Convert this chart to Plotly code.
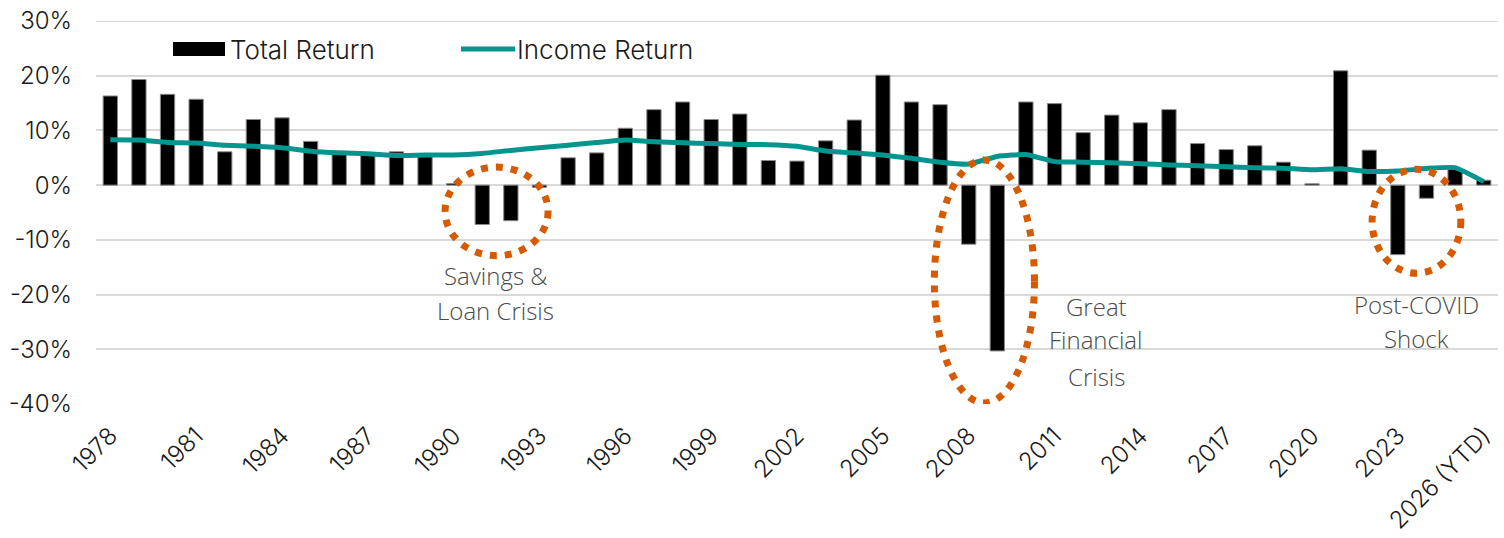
import plotly.graph_objects as go

years = [str(y) for y in range(1978, 2026)] + ["2026 (YTD)"]

total_return = [
    16.3, 19.3, 16.6, 15.7, 6.1, 12.0, 12.3, 8.0, 5.8, 5.5,
    6.1, 5.6, 0.3, -7.2, -6.5, -0.4, 5.0, 5.9, 10.4, 13.8,
    15.2, 12.0, 13.0, 4.5, 4.4, 8.1, 11.9, 20.1, 15.2, 14.7,
    -10.8, -30.3, 15.2, 14.9, 9.6, 12.8, 11.4, 13.8, 7.6, 6.5,
    7.2, 4.2, 0.25, 20.9, 6.4, -12.7, -2.4, 2.9, 0.9,
]

income_return = [
    8.3, 8.25, 7.8, 7.7, 7.3, 7.1, 6.85, 6.2, 5.9, 5.75,
    5.4, 5.5, 5.5, 5.8, 6.35, 6.85, 7.3, 7.8, 8.25, 7.95,
    7.75, 7.6, 7.45, 7.4, 7.1, 6.25, 5.9, 5.5, 4.9, 4.2,
    3.85, 5.25, 5.6, 4.3, 4.2, 4.1, 3.9, 3.7, 3.55, 3.35,
    3.2, 3.1, 2.8, 3.0, 2.5, 2.6, 3.05, 3.2, 0.65,
]

y_ticks = [30, 20, 10, 0, -10, -20, -30, -40]
y_tick_text = ["30%", "20%", "10%", "0%", "-10%", "-20%", "-30%", "-40%"]

FONT = "Inter"
TEAL = "#05958F"
ORANGE = "#D65A00"
GRID = "#d9d9d9"
W, H = 1504, 538
ML, MR, MT, MB = 96, 6, 21, 134

fig = go.Figure()
fig.add_trace(go.Bar(
    x=years, y=total_return, name="Total Return",
    marker=dict(color="#000000", line=dict(color="#8a8a8a", width=1)),
    width=0.5, showlegend=False,
))
fig.add_trace(go.Scatter(
    x=years, y=income_return, name="Income Return", mode="lines",
    line=dict(color=TEAL, width=5, shape="spline", smoothing=0.4),
    showlegend=False,
))

# top gridline (plotly drops the gridline lying on the plot edge)
fig.add_shape(type="line", xref="paper", yref="y", x0=0, x1=1, y0=y_ticks[0], y1=y_ticks[0],
              line=dict(color=GRID, width=2), layer="below")

# crisis ellipses (category index, percent)
ellipses = [
    (11.7, 15.3, 3.3, -12.9),
    (28.8, 32.3, 4.6, -39.8),
    (44.1, 47.2, 2.9, -16.1),
]
for x0, x1, y0, y1 in ellipses:
    fig.add_shape(type="circle", xref="x", yref="y", x0=x0, x1=x1, y0=y1, y1=y0,
                  line=dict(color=ORANGE, width=7, dash="7px,8px"), layer="above")

labels = [
    (13.47, -16.6, "Savings &"), (13.47, -23.0, "Loan Crisis"),
    (34.45, -22.1, "Great"), (34.45, -28.3, "Financial"), (34.45, -34.9, "Crisis"),
    (45.66, -21.8, "Post-COVID"), (45.66, -28.1, "Shock"),
]
for x, y, t in labels:
    fig.add_annotation(x=x, y=y, xref="x", yref="y", text=t, showarrow=False,
                       font=dict(family="Open Sans", size=24, color="#4a4a4a", weight=300),
                       xanchor="center", yanchor="middle")

# manual legend (positions given in page pixels)
pw, ph = W - ML - MR, H - MT - MB
def px(xp):
    return (xp - ML) / pw
def py(yp):
    return (H - MB - yp) / ph

fig.add_shape(type="rect", xref="paper", yref="paper", x0=px(173), x1=px(225),
              y0=py(56), y1=py(42), fillcolor="#000000", line=dict(width=0))
fig.add_annotation(xref="paper", yref="paper", x=px(228), y=py(49), text="Total Return",
                   showarrow=False, xanchor="left", yanchor="middle",
                   font=dict(family=FONT, size=26, color="#1a1a1a", weight=350))
fig.add_shape(type="line", xref="paper", yref="paper", x0=px(461), x1=px(515),
              y0=py(49), y1=py(49), line=dict(color=TEAL, width=5))
fig.add_annotation(xref="paper", yref="paper", x=px(515), y=py(49), text="Income Return",
                   showarrow=False, xanchor="left", yanchor="middle",
                   font=dict(family=FONT, size=26, color="#1a1a1a", weight=350))

fig.update_layout(
    width=W, height=H,
    margin=dict(l=ML, r=MR, t=MT, b=MB, autoexpand=False),
    plot_bgcolor="white", paper_bgcolor="white",
    font=dict(family=FONT, size=24, color="#1a1a1a"),
    bargap=0.5,
    showlegend=False,
)
fig.update_xaxes(
    type="category", tickmode="array", tickvals=years[::3], ticktext=years[::3],
    tickangle=-45, showgrid=False, showline=False, ticks="", automargin=False,
    ticklabelstandoff=12, ticklabeloverflow="allow", tickfont=dict(size=24, weight=350),
)
fig.update_yaxes(
    range=[-40, 30], tickmode="array", tickvals=y_ticks, ticktext=y_tick_text,
    showgrid=True, gridcolor=GRID, gridwidth=2, zeroline=False, automargin=False,
    showline=False, ticks="", ticklabelstandoff=23, ticklabeloverflow="allow",
    tickfont=dict(size=24, weight=350),
)

fig.write_html(
    "out.html",
    config={"displayModeBar": False},
    post_script="document.body.style.margin='0';document.body.style.overflow='hidden';",
)
